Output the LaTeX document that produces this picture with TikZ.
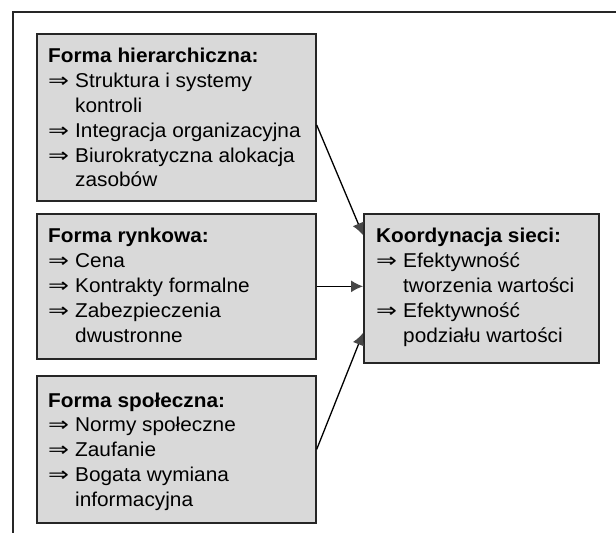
\documentclass[tikz,border=0pt]{standalone}
\usepackage{fontspec}
\setmainfont{Liberation Sans}[FakeStretch=1.04]
\newfontfamily\arrfont{DejaVu Sans}[FakeStretch=1.25]
\usetikzlibrary{arrows.meta,calc}
\newcommand{\myarr}{\makebox[22pt][l]{\arrfont ⇒}}
\definecolor{boxfill}{HTML}{D9D9D9}
\definecolor{boxline}{HTML}{262626}
\tikzset{
  panel/.style={draw=boxline, line width=1.7pt, fill=boxfill, rectangle, inner sep=0pt, anchor=north west},
  txt/.style={inner sep=0pt, anchor=base west, font=\fontsize{20}{24.8}\selectfont},
  conn/.style={draw=black, line width=1.3pt, -{Latex[length=12pt,width=12pt,color=black!72]}},
  frame/.style={draw=black!85, line width=1.2pt}
}
\begin{document}
\begin{tikzpicture}[x=1pt,y=-1pt]
\useasboundingbox (0,0) rectangle (616,537);
% outer frame (cropped)
\coordinate (fa) at (616,12);
\coordinate (fb) at (13,12);
\coordinate (fc) at (13,533);
\draw[frame] (fa) -- (fb) -- (fc);
% boxes
\node[panel, minimum width=279pt, minimum height=167pt] (b1) at (36,33) {};
\node[panel, minimum width=279pt, minimum height=145pt] (b2) at (36,213) {};
\node[panel, minimum width=279pt, minimum height=147pt] (b3) at (36,375) {};
\node[panel, minimum width=235pt, minimum height=149pt] (k) at (363,213) {};
% texts
\node[txt] (t1) at ($(b1.north west)+(12,30)$) {\begin{tabular}[t]{@{}l@{\hspace{5pt}}l@{}}
\multicolumn{2}{@{}l@{}}{\textbf{Forma hierarchiczna:}}\\
\myarr & Struktura i systemy\\
 & kontroli\\
\myarr & Integracja organizacyjna\\
\myarr & Biurokratyczna alokacja\\
 & zasobów
\end{tabular}};
\node[txt] (t2) at ($(b2.north west)+(12,30)$) {\begin{tabular}[t]{@{}l@{\hspace{5pt}}l@{}}
\multicolumn{2}{@{}l@{}}{\textbf{Forma rynkowa:}}\\
\myarr & Cena\\
\myarr & Kontrakty formalne\\
\myarr & Zabezpieczenia\\
 & dwustronne
\end{tabular}};
\node[txt] (t3) at ($(b3.north west)+(12,32)$) {\begin{tabular}[t]{@{}l@{\hspace{5pt}}l@{}}
\multicolumn{2}{@{}l@{}}{\textbf{Forma społeczna:}}\\
\myarr & Normy społeczne\\
\myarr & Zaufanie\\
\myarr & Bogata wymiana\\
 & informacyjna
\end{tabular}};
\node[txt] (tk) at ($(k.north west)+(13,30)$) {\begin{tabular}[t]{@{}l@{\hspace{5pt}}l@{}}
\multicolumn{2}{@{}l@{}}{\textbf{Koordynacja sieci:}}\\
\myarr & Efektywność\\
 & tworzenia wartości\\
\myarr & Efektywność\\
 & podziału wartości
\end{tabular}};
% connectors
\draw[conn] ($(b1.north east)+(0,92)$) -- ($(k.north west)+(0,22)$);
\draw[conn] (b2.east) -- (k.west |- b2.east);
\draw[conn] (b3.east) -- ($(k.north west)+(0,120)$);
\end{tikzpicture}
\end{document}
